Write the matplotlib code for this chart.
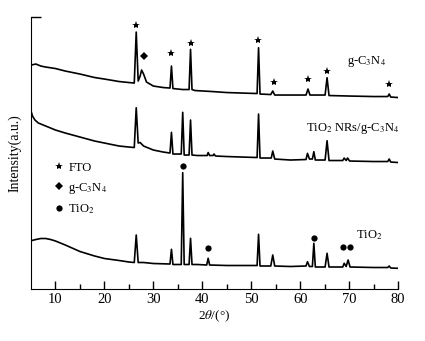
import matplotlib
matplotlib.use("Agg")
import matplotlib.pyplot as plt
from matplotlib.lines import Line2D

plt.rcParams['font.family'] = ['Liberation Serif', 'DejaVu Serif']
plt.rcParams['mathtext.fontset'] = 'stix'

# XRD patterns (2theta in degrees, intensity in a.u.)
gcn_x = [5, 6, 7, 8, 10, 12, 15, 18, 20, 23, 25, 26.1, 26.5, 26.9, 27.3, 27.6, 28.0, 28.6,
         30, 32, 33.4, 33.7, 34.0, 36, 37.3, 37.6, 37.9, 38.5, 42, 45, 48, 51.2, 51.5, 51.8,
         54.0, 54.4, 54.8, 58, 61.2, 61.6, 62.0, 65.1, 65.5, 65.9, 70, 75, 77.9, 78.2, 78.5, 80]
gcn_y = [224, 225, 223, 222, 220.5, 218, 215, 211.5, 210, 207.5, 206.5, 206, 257, 208, 213, 219, 215, 207,
         203, 201.5, 201, 223, 200.5, 199.5, 199.5, 239.7, 199.5, 198.5, 197.5, 196.5, 196, 195.5, 241.3, 195,
         194.5, 198, 194, 194, 194, 200, 194, 194, 211.3, 193.5, 193, 192.5, 192.5, 195, 192, 191.5]

comp_x = [5, 5.3, 5.8, 6.5, 8, 10, 12, 15, 18, 20, 23, 25, 26.1, 26.5, 26.9, 27.3, 28, 30, 32,
          33.4, 33.7, 34.0, 35.7, 36.0, 36.3, 37.3, 37.6, 37.9, 39, 41.0, 41.2, 41.5, 42.2, 42.4, 42.7,
          45, 48, 51.2, 51.5, 51.8, 54.1, 54.4, 54.8, 58, 61.2, 61.5, 61.9, 62.5, 62.8, 63.1,
          65.1, 65.5, 65.9, 68.7, 69.0, 69.4, 69.7, 70.1, 75, 77.9, 78.2, 78.5, 80]
comp_y = [178, 173, 169, 166, 163, 159, 156, 152, 148, 146, 143, 142, 141.5, 181.3, 146, 146.5, 143, 139, 137,
          136, 156.7, 135, 135, 176.7, 134, 134, 169, 134, 133.5, 133.5, 136.5, 133.5, 133.5, 135, 133,
          132.5, 132, 131.5, 175, 131, 131, 138, 130, 129, 129.5, 135.7, 130, 130, 137.3, 129,
          129, 148.3, 128.5, 128.5, 131, 128.5, 131, 128, 127.5, 127.5, 130, 127, 126.5]

tio2_x = [5, 6, 7, 8, 9, 10, 12, 15, 18, 20, 23, 25, 26.1, 26.5, 26.9, 28, 30, 33.4, 33.7, 34.0,
          35.7, 36.0, 36.3, 37.3, 37.6, 37.9, 39, 40.9, 41.2, 41.5, 45, 48, 51.2, 51.5, 51.8,
          54.0, 54.4, 54.8, 58, 61.2, 61.5, 61.9, 62.5, 62.8, 63.1, 65.1, 65.5, 65.9,
          68.7, 69.0, 69.4, 69.8, 70.2, 75, 77.9, 78.2, 78.5, 80]
tio2_y = [48.3, 49.5, 50.5, 50.5, 49.5, 48, 44, 37.5, 33, 30.5, 28.5, 27, 26.5, 54, 26.5, 26.5, 25.5, 25, 39.7, 24.5,
          24.5, 116.3, 24.5, 24.5, 50.7, 24.5, 24.5, 24, 30.7, 24, 23.5, 23.5, 23.5, 54.7, 23,
          23, 34, 23, 22.5, 23, 27.3, 22.5, 22.5, 45.7, 22, 22, 35.7, 22,
          22, 25.7, 22.5, 29, 22, 21.5, 21.5, 23, 21, 20.7]

# phase markers above the peaks
fto_x = [26.5, 33.7, 37.7, 51.4, 54.6, 61.7, 65.5, 78.1]
fto_y = [264, 235.7, 245.7, 249, 206.7, 209.7, 218, 204.7]
gcn_mark_x = [28.0]
gcn_mark_y = [233]
tio2_mark_x = [36.1, 41.1, 62.9, 68.7, 70.2]
tio2_mark_y = [123.3, 41.3, 50.7, 42.3, 42.3]

fig = plt.figure(figsize=(4.25, 3.41), dpi=100)
ax = fig.add_axes([0.073, 0.1525, 0.8635, 0.7975])

for xs, ys in [(gcn_x, gcn_y), (comp_x, comp_y), (tio2_x, tio2_y)]:
    ax.plot(xs, ys, color='black', lw=1.2)

ax.plot(fto_x, fto_y, '*', color='black', ms=6, mew=0)
ax.plot(gcn_mark_x, gcn_mark_y, 'D', color='black', ms=4.5, mew=0)
ax.plot(tio2_mark_x, tio2_mark_y, 'o', color='black', ms=4.5, mew=0)

ax.text(73.6, 228, 'g-C$_3$N$_4$', fontsize=9, ha='center', va='center')
ax.text(61.1, 161, 'TiO$_2$ NRs/g-C$_3$N$_4$', fontsize=9, ha='left', va='center')
ax.text(71.4, 54, 'TiO$_2$', fontsize=9, ha='left', va='center')

handles = [Line2D([], [], ls='none', marker='*', color='black', ms=6, mew=0),
           Line2D([], [], ls='none', marker='D', color='black', ms=4.5, mew=0),
           Line2D([], [], ls='none', marker='o', color='black', ms=4.5, mew=0)]
ax.legend(handles, ['FTO', 'g-C$_3$N$_4$', 'TiO$_2$'], loc='upper left',
          bbox_to_anchor=(0.035, 0.5), frameon=False, fontsize=9,
          handlelength=1.0, handletextpad=0.25, labelspacing=0.55, borderpad=0.2)

ax.set_xlim(5, 80)
ax.set_ylim(0, 272)
ax.set_xticks(range(10, 81, 10))
ax.set_xticks(range(15, 80, 10), minor=True)
ax.set_yticks([272])
ax.set_yticklabels([])
ax.tick_params(axis='x', which='major', direction='in', length=6, width=1, labelsize=10.5, pad=3)
ax.tick_params(axis='x', which='minor', direction='in', length=3.5, width=1)
ax.tick_params(axis='y', direction='in', length=7, width=1)
ax.spines['top'].set_visible(False)
ax.spines['right'].set_visible(False)
ax.set_xlabel('2$\\theta$/(°)', fontsize=9.5, labelpad=2)
ax.set_ylabel('Intensity(a.u.)', fontsize=10, labelpad=3)

fig.savefig('out.png', dpi=100)
